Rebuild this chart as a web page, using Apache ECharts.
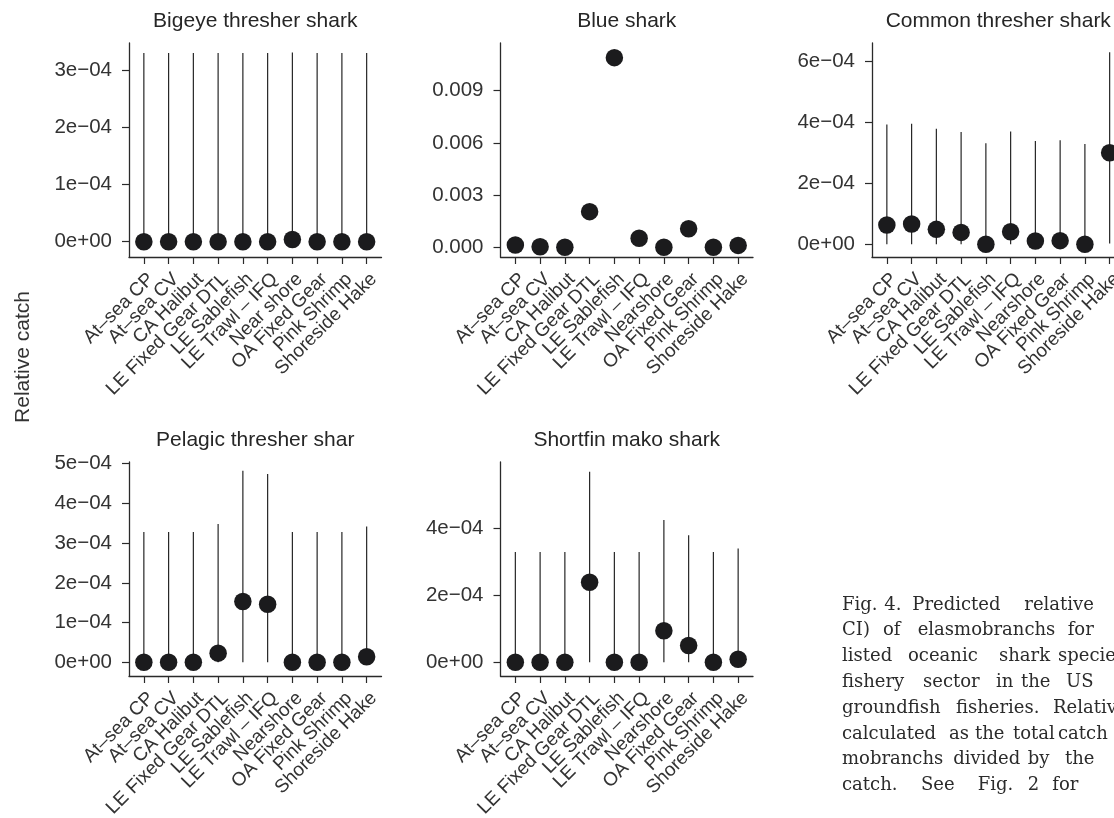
<!DOCTYPE html>
<html>
<head>
<meta charset="utf-8">
<script src="https://cdn.jsdelivr.net/npm/echarts@6/dist/echarts.min.js"></script>
<style>
  html, body { margin: 0; padding: 0; background: #ffffff; overflow: hidden; }
  #chart { width: 1140px; height: 818px; }
</style>
</head>
<body>
<div id="chart"></div>
<script>
// Fishery sectors (x categories)
const categories = ["At–sea CP", "At–sea CV", "CA Halibut", "LE Fixed Gear DTL", "LE Sablefish",
  "LE Trawl – IFQ", "Nearshore", "OA Fixed Gear", "Pink Shrimp", "Shoreside Hake"];
const categoriesBigeye = ["At–sea CP", "At–sea CV", "CA Halibut", "LE Fixed Gear DTL", "LE Sablefish",
  "LE Trawl – IFQ", "Near shore", "OA Fixed Gear", "Pink Shrimp", "Shoreside Hake"];

// Predicted relative catch with 95% CI bounds, per species
const bigeyeEst  = [0, 0, 0, 0, 0, 0, 0.000004, 0, 0, 0];
const bigeyeLow  = [0, 0, 0, 0, 0, 0, 0, 0, 0, 0];
const bigeyeHigh = [0.000331, 0.000331, 0.000331, 0.000331, 0.000331, 0.000331, 0.000332, 0.000331, 0.000331, 0.000331];

const blueEst = [0.00013, 0.00003, 0, 0.00205, 0.0109, 0.00052, 0, 0.00107, 0, 0.00011];

const commonEst  = [0.0000633, 0.0000666, 0.000049, 0.000039, 0, 0.000041, 0.000011, 0.000012, 0, 0.000300];
const commonLow  = [0, 0, 0, 0, 0, 0, 0, 0, 0, 0.000003];
const commonHigh = [0.000393, 0.000395, 0.000379, 0.000368, 0.000331, 0.000370, 0.000339, 0.000341, 0.000329, 0.000630];

const pelagicEst  = [0, 0, 0, 0.000023, 0.000153, 0.000146, 0, 0, 0, 0.000014];
const pelagicLow  = [0, 0, 0, 0, 0, 0, 0, 0, 0, 0];
const pelagicHigh = [0.000328, 0.000328, 0.000328, 0.000348, 0.000482, 0.000474, 0.000328, 0.000328, 0.000328, 0.000342];

const makoEst  = [0, 0, 0, 0.000239, 0, 0, 0.000094, 0.000050, 0, 0.000009];
const makoLow  = [0, 0, 0, 0, 0, 0, 0, 0, 0, 0];
const makoHigh = [0.000329, 0.000329, 0.000329, 0.000569, 0.000329, 0.000329, 0.000425, 0.000379, 0.000329, 0.000340];

// Y tick values and their labels
const bigeyeTicks = [0, 0.0001, 0.0002, 0.0003];
const bigeyeTickLabels = ["0e+00", "1e−04", "2e−04", "3e−04"];
const blueTicks = [0, 0.003, 0.006, 0.009];
const blueTickLabels = ["0.000", "0.003", "0.006", "0.009"];
const commonTicks = [0, 0.0002, 0.0004, 0.0006];
const commonTickLabels = ["0e+00", "2e−04", "4e−04", "6e−04"];
const pelagicTicks = [0, 0.0001, 0.0002, 0.0003, 0.0004, 0.0005];
const pelagicTickLabels = ["0e+00", "1e−04", "2e−04", "3e−04", "4e−04", "5e−04"];
const makoTicks = [0, 0.0002, 0.0004];
const makoTickLabels = ["0e+00", "2e−04", "4e−04"];

const panelTitles = ["Bigeye thresher shark", "Blue shark", "Common thresher shark",
  "Pelagic thresher shar", "Shortfin mako shark"];
const yAxisName = "Relative catch";

// Caption words, line by line
const captionLines = [
  ["Fig.", "4.", "Predicted", "relative"],
  ["CI)", "of", "elasmobranchs", "for"],
  ["listed", "oceanic", "shark", "species"],
  ["fishery", "sector", "in", "the", "US"],
  ["groundfish", "fisheries.", "Relative"],
  ["calculated", "as", "the", "total", "catch"],
  ["mobranchs", "divided", "by", "the"],
  ["catch.", "See", "Fig.", "2", "for"]
];

// ---- layout ----
const SANS = "'Liberation Sans', Arial, Helvetica, sans-serif";
const INK = "#1b1b1d";
const AXIS = "#2a2a2a";
const PW = 252.5, PH = 214;
const panels = [
  { title: panelTitles[0], cats: categoriesBigeye, est: bigeyeEst, low: bigeyeLow, high: bigeyeHigh,
    ticks: bigeyeTicks, labels: bigeyeTickLabels, left: 129, top: 43, min: -0.0000268, max: 0.0003486 },
  { title: panelTitles[1], cats: categories, est: blueEst, low: null, high: null,
    ticks: blueTicks, labels: blueTickLabels, left: 500.5, top: 43, min: -0.000557, max: 0.011741 },
  { title: panelTitles[2], cats: categories, est: commonEst, low: commonLow, high: commonHigh,
    ticks: commonTicks, labels: commonTickLabels, left: 872, top: 43, min: -0.0000416, max: 0.00066 },
  { title: panelTitles[3], cats: categories, est: pelagicEst, low: pelagicLow, high: pelagicHigh,
    ticks: pelagicTicks, labels: pelagicTickLabels, left: 129, top: 462, min: -0.0000345, max: 0.0005043 },
  { title: panelTitles[4], cats: categories, est: makoEst, low: makoLow, high: makoHigh,
    ticks: makoTicks, labels: makoTickLabels, left: 500.5, top: 462, min: -0.0000409, max: 0.0005979 }
];

const catIdx = categories.map((_, i) => i);
const grids = [], xAxes = [], yAxes = [], series = [], graphics = [];

panels.forEach((p, k) => {
  grids.push({ left: p.left, top: p.top, width: PW, height: PH, containLabel: false });
  xAxes.push({
    type: 'value', gridIndex: k, min: -0.6, max: 9.6,
    splitLine: { show: false },
    axisLine: { show: true, onZero: false, lineStyle: { color: AXIS, width: 1.3 } },
    axisTick: { show: true, customValues: catIdx, length: 7, lineStyle: { color: AXIS, width: 1.2 } },
    axisLabel: { show: false }
  });
  yAxes.push({
    type: 'value', gridIndex: k, min: p.min, max: p.max,
    splitLine: { show: false },
    axisLine: { show: true, onZero: false, lineStyle: { color: AXIS, width: 1.3 } },
    axisTick: { show: true, customValues: p.ticks, length: 7, lineStyle: { color: AXIS, width: 1.2 } },
    axisLabel: {
      customValues: p.ticks, margin: 17,
      fontFamily: SANS, fontSize: 20.5, color: '#333',
      formatter: v => {
        const j = p.ticks.findIndex(t => Math.abs(t - v) < 1e-12);
        return j >= 0 ? p.labels[j] : '';
      }
    }
  });

  // sector names, rotated 45° under each tick
  series.push({
    type: 'custom', xAxisIndex: k, yAxisIndex: k, z: 5, clip: false, silent: true,
    encode: { x: 0, y: 1 },
    data: p.cats.map((_, i) => [i, 0]),
    renderItem: (params, api) => {
      const cx = api.coord([api.value(0), 0])[0];
      const cy = params.coordSys.y + params.coordSys.height;
      return {
        type: 'text', x: cx + 0.5, y: cy + 12.5, rotation: Math.PI / 4,
        style: { text: p.cats[params.dataIndex], fontFamily: SANS, fontSize: 19, fill: '#333',
          textAlign: 'right', textVerticalAlign: 'top' }
      };
    }
  });

  if (p.high) {
    series.push({
      type: 'custom', xAxisIndex: k, yAxisIndex: k, z: 2, silent: true,
      encode: { x: 0, y: [1, 2] },
      data: p.est.map((_, i) => [i, p.low[i], p.high[i]]),
      renderItem: (params, api) => {
        const a = api.coord([api.value(0), api.value(1)]);
        const b = api.coord([api.value(0), api.value(2)]);
        return {
          type: 'line',
          shape: { x1: a[0], y1: a[1], x2: b[0], y2: b[1] },
          style: { stroke: '#262626', lineWidth: 1.2 }
        };
      }
    });
  }
  series.push({
    type: 'scatter', xAxisIndex: k, yAxisIndex: k, z: 3, silent: true,
    symbol: 'circle', symbolSize: 17.5,
    itemStyle: { color: INK, opacity: 1 },
    data: p.est.map((v, i) => [i, v])
  });
  graphics.push({
    type: 'text', x: p.left + PW / 2, y: p.top - 22,
    style: { text: p.title, fontFamily: SANS, fontSize: 21, fill: '#262626',
      textAlign: 'center', textVerticalAlign: 'middle' }
  });
});

graphics.push({
  type: 'text', x: 23, y: 357, rotation: Math.PI / 2,
  style: { text: yAxisName, fontFamily: SANS, fontSize: 21, fill: '#333',
    textAlign: 'center', textVerticalAlign: 'middle' }
});

// Caption, justified word placement
const captionWordX = [
  [842, 884.3, 912.3, 1024.3],
  [842, 883, 917.7, 1067.7],
  [842, 908, 999, 1058],
  [842, 923, 996, 1021, 1066],
  [842, 956, 1053],
  [842, 949, 975, 1013, 1058],
  [842, 953.3, 1027.7, 1065],
  [842, 921, 977.7, 1027.7, 1052.3]
];
captionLines.forEach((words, li) => {
  words.forEach((w, wi) => {
    graphics.push({
      type: 'text', x: captionWordX[li][wi], y: 614 + li * 25.8,
      style: { text: w, fontFamily: "'DejaVu Serif', serif", fontSize: 18, fill: '#2b2b2b',
        textAlign: 'left', textVerticalAlign: 'bottom' }
    });
  });
});

const chart = echarts.init(document.getElementById('chart'), null, { renderer: 'canvas' });
chart.setOption({
  animation: false,
  backgroundColor: '#ffffff',
  grid: grids,
  xAxis: xAxes,
  yAxis: yAxes,
  series: series,
  graphic: graphics
});
</script>
</body>
</html>
